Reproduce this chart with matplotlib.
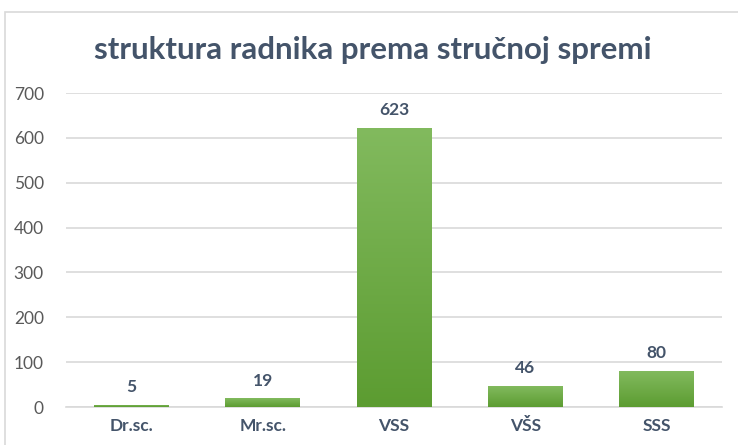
import numpy as np
import matplotlib
matplotlib.use("Agg")
import matplotlib.pyplot as plt
from matplotlib.patches import Rectangle
from matplotlib.colors import LinearSegmentedColormap

# data
categories = ["Dr.sc.", "Mr.sc.", "VSS", "VŠS", "SSS"]
values = [5, 19, 623, 46, 80]
yticks = [0, 100, 200, 300, 400, 500, 600, 700]

plt.rcParams['font.family'] = ['Lato', 'DejaVu Sans']

fig = plt.figure(figsize=(7.38, 4.45), dpi=100)
ax = fig.add_axes([66 / 738, 1 - 407 / 445, 656 / 738, (407 - 93) / 445])

# light frame around the chart area
fig.patches.append(Rectangle((5 / 738, -0.01), 1.0, 1 - 12 / 445 + 0.01,
                             transform=fig.transFigure, fill=False,
                             edgecolor="#d9d9d9", linewidth=1.2))

x = np.arange(len(categories))
bars = ax.bar(x, values, width=0.57, color="none", edgecolor="none", zorder=3)

# gradient fill for each bar (lighter on top)
cmap = LinearSegmentedColormap.from_list("g", ["#5c9c31", "#82ba5e"])
grad = np.linspace(0, 1, 256).reshape(-1, 1)
for b in bars:
    x0, y0 = b.get_x(), b.get_y()
    w, h = b.get_width(), b.get_height()
    im = ax.imshow(grad, cmap=cmap, origin="lower", aspect="auto",
                   extent=[x0, x0 + w, y0, y0 + h], zorder=3)
    im.set_clip_path(b)

for xi, v in zip(x, values):
    ax.text(xi, v + 22, str(v), ha="center", va="bottom", fontsize=12.5,
            fontweight="bold", color="#44546a")

ax.set_xlim(-0.5, len(categories) - 0.5)
ax.set_ylim(0, 700)
ax.set_yticks(yticks)
ax.set_xticks(x)
ax.set_xticklabels(categories, fontsize=12.5, fontweight="bold", color="#44546a")
ax.tick_params(axis="y", labelsize=12.5, labelcolor="#595959", length=0, pad=16)
ax.tick_params(axis="x", length=0, pad=8)
ax.grid(axis="y", color="#d9d9d9", linewidth=1.2, zorder=0)
for s in ["top", "right", "left"]:
    ax.spines[s].set_visible(False)
ax.spines["bottom"].set_color("#d9d9d9")
ax.spines["bottom"].set_linewidth(1.2)

fig.text(373 / 738, 1 - 50 / 445, "struktura radnika prema stručnoj spremi",
         ha="center", va="center", fontsize=22.5, fontweight="bold",
         color="#44546a")

fig.savefig("out.png", dpi=100)
